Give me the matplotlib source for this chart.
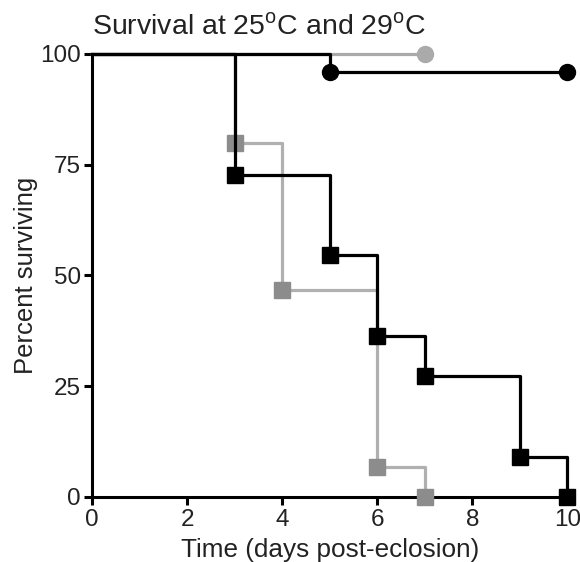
#Kaplan-Meier style survival curves at 25C and 29C

import numpy as np
import matplotlib
matplotlib.use("Agg")
from matplotlib import pyplot as plt

plt.rcParams['font.family'] = ['Liberation Sans', 'DejaVu Sans']
plt.rcParams['mathtext.fontset'] = 'custom'
plt.rcParams['mathtext.rm'] = 'Liberation Sans'

# data (days, percent surviving)
t_gray_circ = [0, 7]
s_gray_circ = [100, 100]

t_black_circ = [0, 5, 10]
s_black_circ = [100, 96, 96]

t_gray_sq = [0, 3, 4, 6, 7]
s_gray_sq = [100, 80, 46.7, 6.7, 0]

t_black_sq = [0, 3, 5, 6, 7, 9, 10]
s_black_sq = [100, 72.7, 54.5, 36.4, 27.3, 9.1, 0]

xticks = [0, 2, 4, 6, 8, 10]
yticks = [0, 25, 50, 75, 100]

fig = plt.figure(figsize=(5.8, 5.62), dpi=100)
ax = fig.add_axes([0.159, 0.116, 0.819, 0.788])

lw = 2.3
#gray first, black on top
ax.step(t_gray_sq, s_gray_sq, where='post', color='#b0b0b0', lw=lw, clip_on=False, zorder=2)
ax.plot(t_gray_sq[1:], s_gray_sq[1:], 's', color='#8c8c8c', ms=11.5, clip_on=False, zorder=3)

ax.step(t_gray_circ, s_gray_circ, where='post', color='#aaaaaa', lw=lw, clip_on=False, zorder=2)
ax.plot(t_gray_circ[-1:], s_gray_circ[-1:], 'o', color='#aaaaaa', ms=11.5, clip_on=False, zorder=3)

ax.step(t_black_sq, s_black_sq, where='post', color='black', lw=lw, clip_on=False, zorder=4)
ax.plot(t_black_sq[1:], s_black_sq[1:], 's', color='black', ms=11.5, clip_on=False, zorder=5)

ax.step(t_black_circ, s_black_circ, where='post', color='black', lw=lw, clip_on=False, zorder=4)
ax.plot(t_black_circ[1:], s_black_circ[1:], 'o', color='black', ms=11.5, clip_on=False, zorder=5)

ax.set_xlim(0, 10)
ax.set_ylim(0, 100)
ax.set_xticks(xticks)
ax.set_yticks(yticks)
ax.spines['top'].set_visible(False)
ax.spines['right'].set_visible(False)
ax.spines['left'].set_linewidth(2.2)
ax.spines['bottom'].set_linewidth(2.2)
ax.tick_params(width=2.2, length=6, labelsize=17.5, pad=2, colors='black')
ax.tick_params(axis='x', pad=3)
for lab in ax.get_xticklabels() + ax.get_yticklabels():
    lab.set_color('#222222')

ax.set_xlabel("Time (days post-eclosion)", fontsize=18.8, labelpad=5, color='#222222')
ax.set_ylabel("Percent surviving", fontsize=18.5, labelpad=2, color='#222222')
ax.set_title(r"Survival at 25$^{\mathrm{o}}$C and 29$^{\mathrm{o}}$C", fontsize=20.5, loc='left', pad=14, color='#222222')

plt.savefig("out.png", dpi=100)
